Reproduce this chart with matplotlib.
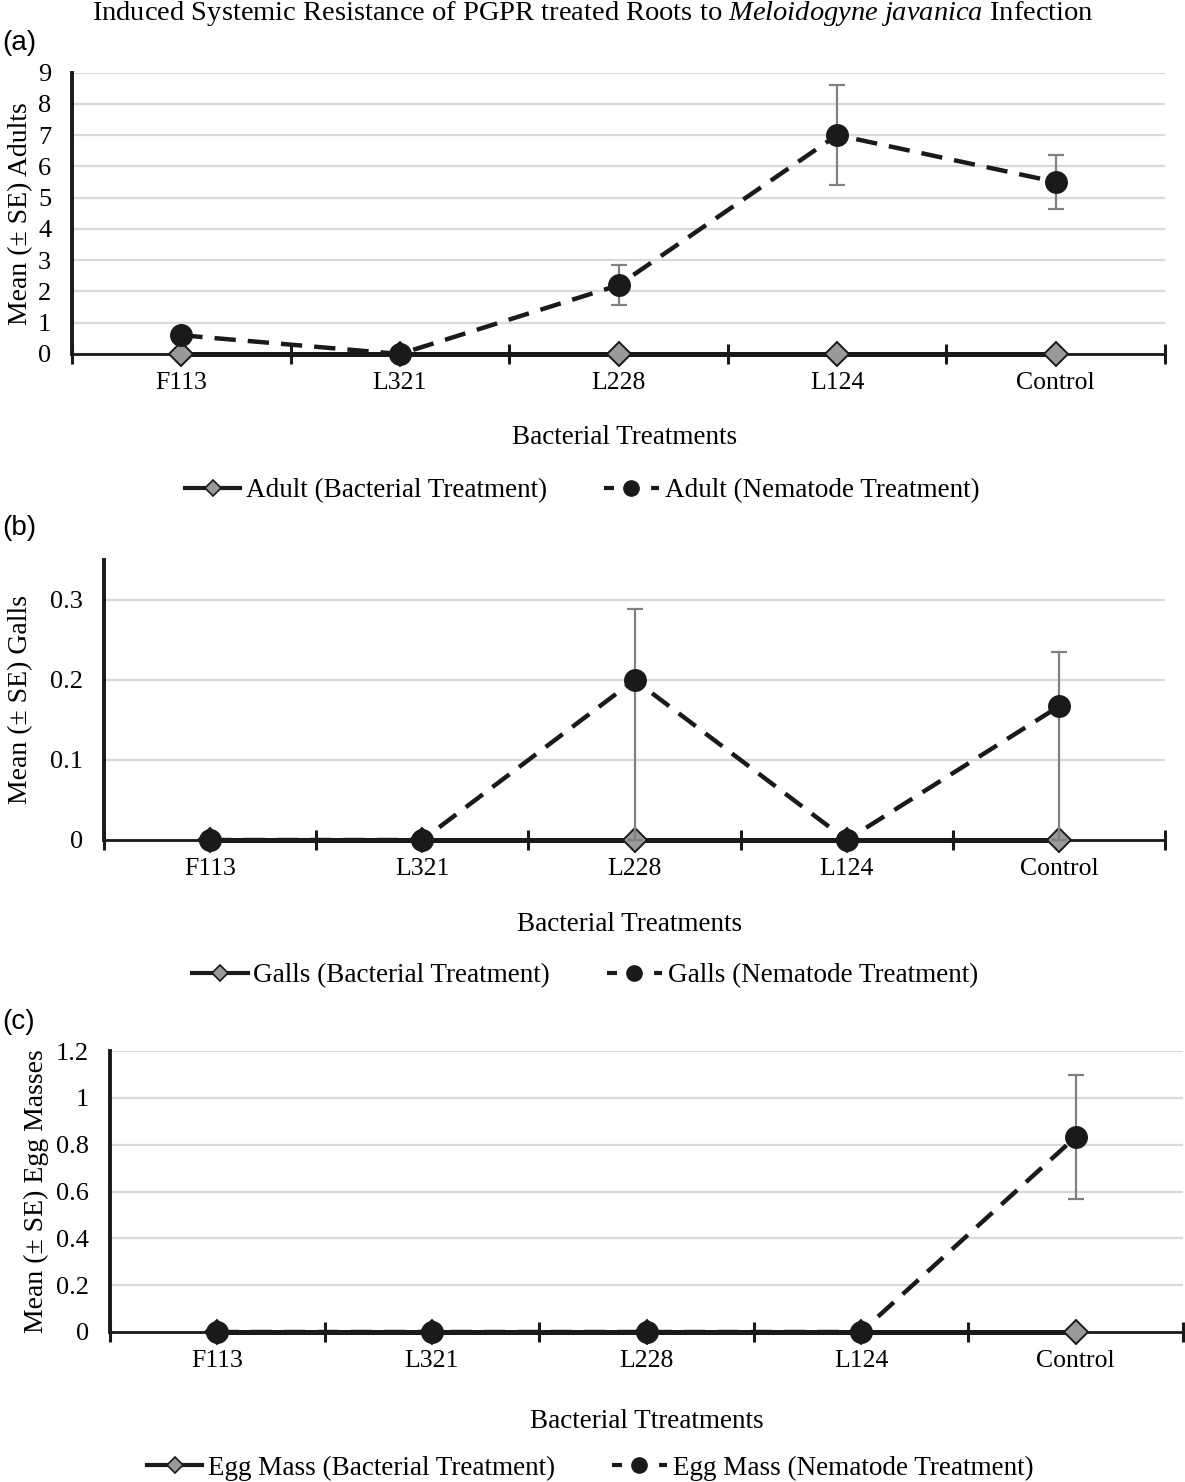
import matplotlib
matplotlib.use("Agg")
import matplotlib.pyplot as plt
from matplotlib.lines import Line2D
import numpy as np

plt.rcParams['font.family'] = ['Liberation Serif', 'DejaVu Serif']
plt.rcParams['mathtext.fontset'] = 'custom'
plt.rcParams['mathtext.rm'] = 'Liberation Serif'
plt.rcParams['mathtext.it'] = 'Liberation Serif:italic'

categories = ["F113", "L321", "L228", "L124", "Control"]

# Panel (a) Adults
adult_bact = [0, 0, 0, 0, 0]
adult_nema = [0.6, 0.0, 2.2, 7.0, 5.5]
adult_err_lo = [0, 0, 0.62, 1.6, 0.85]
adult_err_hi = [0, 0, 0.65, 1.6, 0.85]
adult_yticks = [0, 1, 2, 3, 4, 5, 6, 7, 8, 9]
adult_yticklabels = ["0", "1", "2", "3", "4", "5", "6", "7", "8", "9"]

# Panel (b) Galls
galls_bact = [0, 0, 0, 0, 0]
galls_nema = [0.0, 0.0, 0.2, 0.0, 0.167]
galls_err_lo = [0, 0, 0.2, 0, 0.167]
galls_err_hi = [0, 0, 0.089, 0, 0.068]
galls_yticks = [0, 0.1, 0.2, 0.3]
galls_yticklabels = ["0", "0.1", "0.2", "0.3"]

# Panel (c) Egg masses
egg_bact = [0, 0, 0, 0, 0]
egg_nema = [0.0, 0.0, 0.0, 0.0, 0.833]
egg_err_lo = [0, 0, 0, 0, 0.265]
egg_err_hi = [0, 0, 0, 0, 0.265]
egg_yticks = [0, 0.2, 0.4, 0.6, 0.8, 1.0, 1.2]
egg_yticklabels = ["0", "0.2", "0.4", "0.6", "0.8", "1", "1.2"]

W, H = 1185, 1482
fig = plt.figure(figsize=(W / 100, H / 100), dpi=100)

DARK = '#1a1a1a'
GRAYFILL = '#999999'
ERRC = '#808080'
GRID = '#d9d9d9'

def px_axes(left, right, top, bottom):
    return [left / W, 1 - bottom / H, (right - left) / W, (bottom - top) / H]

panels = [
    dict(rect=px_axes(72, 1165, 72.5, 354), ylim=(0, 9), bact=adult_bact, nema=adult_nema,
         elo=adult_err_lo, ehi=adult_err_hi, yt=adult_yticks, ytl=adult_yticklabels,
         ylabel="Mean (± SE) Adults", xlabel="Bacterial Treatments", xlab_x=625, xlab_y=437,
         leg_x=582, leg_y=491,
         names=("Adult (Bacterial Treatment)", "Adult (Nematode Treatment)"), tag="(a)", tag_y=43,
         ylab_x=21),
    dict(rect=px_axes(104, 1165, 560, 840), ylim=(0, 0.35), bact=galls_bact, nema=galls_nema,
         elo=galls_err_lo, ehi=galls_err_hi, yt=galls_yticks, ytl=galls_yticklabels,
         ylabel="Mean (± SE) Galls", xlabel="Bacterial Treatments", xlab_x=630, xlab_y=925,
         leg_x=585, leg_y=976,
         names=("Galls (Bacterial Treatment)", "Galls (Nematode Treatment)"), tag="(b)", tag_y=528,
         ylab_x=21),
    dict(rect=px_axes(110, 1183, 1051, 1332), ylim=(0, 1.2), bact=egg_bact, nema=egg_nema,
         elo=egg_err_lo, ehi=egg_err_hi, yt=egg_yticks, ytl=egg_yticklabels,
         ylabel="Mean (± SE) Egg Masses", xlabel="Bacterial Ttreatments", xlab_x=647, xlab_y=1422,
         leg_x=590, leg_y=1468,
         names=("Egg Mass (Bacterial Treatment)", "Egg Mass (Nematode Treatment)"), tag="(c)", tag_y=1022,
         ylab_x=36),
]

x = np.arange(len(categories))

for p in panels:
    ax = fig.add_axes(p['rect'])
    ax.set_xlim(-0.5, len(categories) - 0.5)
    ax.set_ylim(*p['ylim'])
    ax.set_yticks(p['yt'])
    ax.set_yticklabels(p['ytl'])
    ax.yaxis.grid(True, color=GRID, lw=1.6)
    ax.set_axisbelow(True)
    for s in ['top', 'right']:
        ax.spines[s].set_visible(False)
    ax.spines['left'].set_linewidth(2.8)
    ax.spines['left'].set_color(DARK)
    ax.spines['bottom'].set_linewidth(2.0)
    ax.spines['bottom'].set_color(DARK)
    ax.spines['bottom'].set_zorder(3)
    ax.tick_params(axis='y', length=0, labelsize=19, pad=15)
    ax.set_xticks(x)
    ax.set_xticklabels(categories)
    ax.tick_params(axis='x', which='major', length=0, labelsize=18.5, pad=13)
    ax.set_xticks(np.arange(-0.5, len(categories)), minor=True)
    ax.tick_params(axis='x', which='minor', direction='inout', length=15, width=2.2, color=DARK)

    # bacterial treatment series (solid, diamonds)
    ax.plot(x, p['bact'], color=DARK, lw=3.6, marker='D', ms=12, mfc=GRAYFILL, mec=DARK,
            mew=1.4, zorder=4, clip_on=False)
    # nematode treatment series (dashed, circles) with error bars
    ax.errorbar(x, p['nema'], yerr=[p['elo'], p['ehi']], fmt='none', ecolor=ERRC,
                elinewidth=1.6, capsize=6, capthick=1.6, zorder=5, clip_on=False)
    ax.plot(x, p['nema'], color=DARK, lw=3.2, ls=(0, (4.8, 2.7)), marker='o', ms=15.5,
            mfc=DARK, mec=DARK, zorder=6, clip_on=False)

    ax.set_ylabel(p['ylabel'], fontsize=20)
    ax.yaxis.set_label_coords((p['ylab_x'] / W - p['rect'][0]) / p['rect'][2], 0.5)
    ax.yaxis.label.set_verticalalignment('center')
    ax.yaxis.label.set_horizontalalignment('center')
    fig.text(p['xlab_x'] / W, 1 - p['xlab_y'] / H, p['xlabel'],
             ha='center', va='center', fontsize=19.5)
    fig.text(2 / W, 1 - p['tag_y'] / H, p['tag'], ha='left', va='center', fontsize=20,
             family='Liberation Sans')

    h1 = Line2D([], [], color=DARK, lw=3, marker='D', ms=8.5, mfc=GRAYFILL, mec=DARK, mew=1.2)
    h2 = Line2D([], [], color=DARK, lw=3, ls=(0, (2.4, 8.9)), marker='o', ms=11, mfc=DARK, mec=DARK)
    fig.legend([h1, h2], list(p['names']), loc='center',
               bbox_to_anchor=(p['leg_x'] / W, 1 - p['leg_y'] / H),
               ncol=2, frameon=False, fontsize=19.5, handlelength=2.05, handletextpad=0.2,
               columnspacing=2.1)

fig.text(0.5, 1 - 13 / H,
         r"Induced Systemic Resistance of PGPR treated Roots to $\mathit{Meloidogyne\ javanica}$ Infection",
         ha='center', va='center', fontsize=20.5)

fig.savefig("out.png", dpi=100)
